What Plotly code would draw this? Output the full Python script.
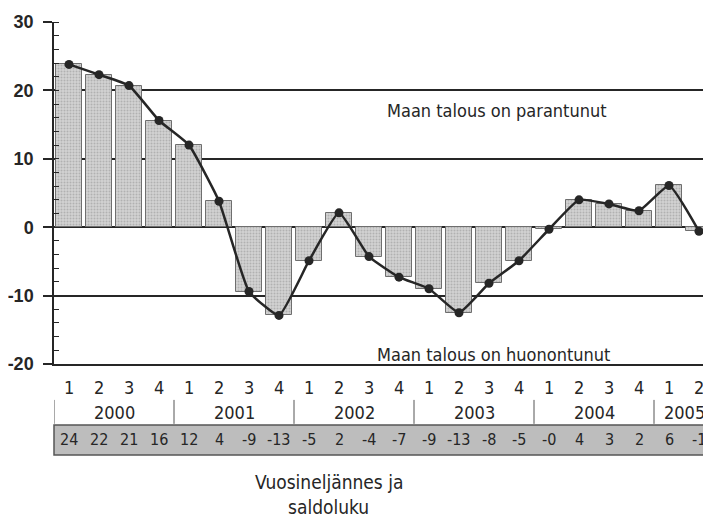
import plotly.graph_objects as go

# Colors
INK = "#262626"
BAR_FILL = "#c0c0c0"
BAR_EDGE = "#6e6e6e"
FONT = "DejaVu Sans Condensed, Liberation Sans Narrow, Arial Narrow, sans-serif"
TICK_FONT = "Liberation Sans, Arial, sans-serif"

# Data: balance figure (saldoluku) per quarter
quarters = [1, 2, 3, 4, 1, 2, 3, 4, 1, 2, 3, 4, 1, 2, 3, 4, 1, 2, 3, 4, 1, 2]
quarter_years = [2000] * 4 + [2001] * 4 + [2002] * 4 + [2003] * 4 + [2004] * 4 + [2005] * 2
saldo = [23.8, 22.3, 20.7, 15.6, 12.0, 3.8, -9.4, -12.9, -4.9, 2.1, -4.3,
         -7.3, -9.0, -12.5, -8.2, -4.9, -0.3, 4.0, 3.4, 2.4, 6.1, -0.6]
saldo_labels = ["24", "22", "21", "16", "12", "4", "-9", "-13", "-5", "2", "-4",
                "-7", "-9", "-13", "-8", "-5", "-0", "4", "3", "2", "6", "-1"]
years = [2000, 2001, 2002, 2003, 2004, 2005]
ytick_vals = [-20, -10, 0, 10, 20, 30]
ytick_text = ["-20", "-10", "0", "10", "20", "30"]

idx = list(range(len(saldo)))

fig = go.Figure()

fig.add_trace(go.Bar(
    x=idx, y=saldo, width=0.86,
    marker=dict(color=BAR_FILL, line=dict(color=BAR_EDGE, width=1),
                pattern=dict(shape=".", fgcolor="#8f8f8f", bgcolor="#d2d2d2",
                             size=3, solidity=0.35)),
    hoverinfo="skip",
))
fig.add_trace(go.Scatter(
    x=idx, y=saldo, mode="lines+markers",
    line=dict(color=INK, width=2.5, shape="spline", smoothing=0.4),
    marker=dict(color=INK, size=9),
))


def label(x, y, text, size, xref="x", yref="paper"):
    return dict(x=x, y=y, xref=xref, yref=yref, text=text, showarrow=False,
                xanchor="center", yanchor="middle",
                font=dict(size=size, color=INK))


annotations = []
# quarter numbers
for i, q in enumerate(quarters):
    annotations.append(label(i, -0.07, str(q), 18))
# year labels, centred over their quarters
for yr in years:
    pos = [i for i, y in enumerate(quarter_years) if y == yr]
    annotations.append(label(sum(pos) / len(pos), -0.143, str(yr), 18))
# value row
for i, lab in enumerate(saldo_labels):
    annotations.append(label(i, -0.222, lab, 16))

annotations += [
    label(14.25, 17.1, "Maan talous on parantunut", 18, yref="y"),
    label(14.15, -18.6, "Maan talous on huonontunut", 18, yref="y"),
    label(8.65, -0.345, "Vuosineljännes ja", 19),
    label(8.65, -0.417, "saldoluku", 19),
]

shapes = []
# year separators
for k in range(len(years)):
    xs = -0.5 + 4 * k
    shapes.append(dict(type="line", xref="x", yref="paper", x0=xs, x1=xs,
                       y0=-0.105, y1=-0.175, line=dict(color="#555", width=1)))
# grey value strip
shapes.append(dict(type="rect", xref="paper", yref="paper", x0=0, x1=1.01,
                   y0=-0.178, y1=-0.266, fillcolor="#bdbdbd",
                   line=dict(color="#555", width=1.5), layer="below"))

# page body has an 8px margin, so the figure is 8px smaller than the window
fig.update_layout(
    width=703, height=510,
    margin=dict(l=46, r=0, t=14, b=154),
    plot_bgcolor="white", paper_bgcolor="white",
    showlegend=False,
    font=dict(family=FONT, color=INK),
    annotations=annotations,
    shapes=shapes,
    bargap=0,
)
fig.update_xaxes(range=[-0.5, 21.4], showticklabels=False, showgrid=False,
                 zeroline=False, showline=True, linecolor=INK, linewidth=1.5,
                 ticks="", automargin=False)
fig.update_yaxes(range=[-20, 30], tickmode="array", tickvals=ytick_vals,
                 ticktext=ytick_text, showgrid=True,
                 gridcolor=INK, gridwidth=1.5, zeroline=True, zerolinecolor=INK,
                 zerolinewidth=1.5, showline=True, linecolor=INK, linewidth=1.5,
                 ticks="outside", ticklen=9, tickwidth=1.5, tickcolor=INK,
                 ticklabelstandoff=6, automargin=False,
                 tickfont=dict(size=18, family=TICK_FONT, weight="bold", color=INK),
                 minor=dict(ticks="inside", tickmode="linear", tick0=0, dtick=2,
                            ticklen=5, tickcolor=INK, tickwidth=1, showgrid=False))

fig.write_html("out.html")
